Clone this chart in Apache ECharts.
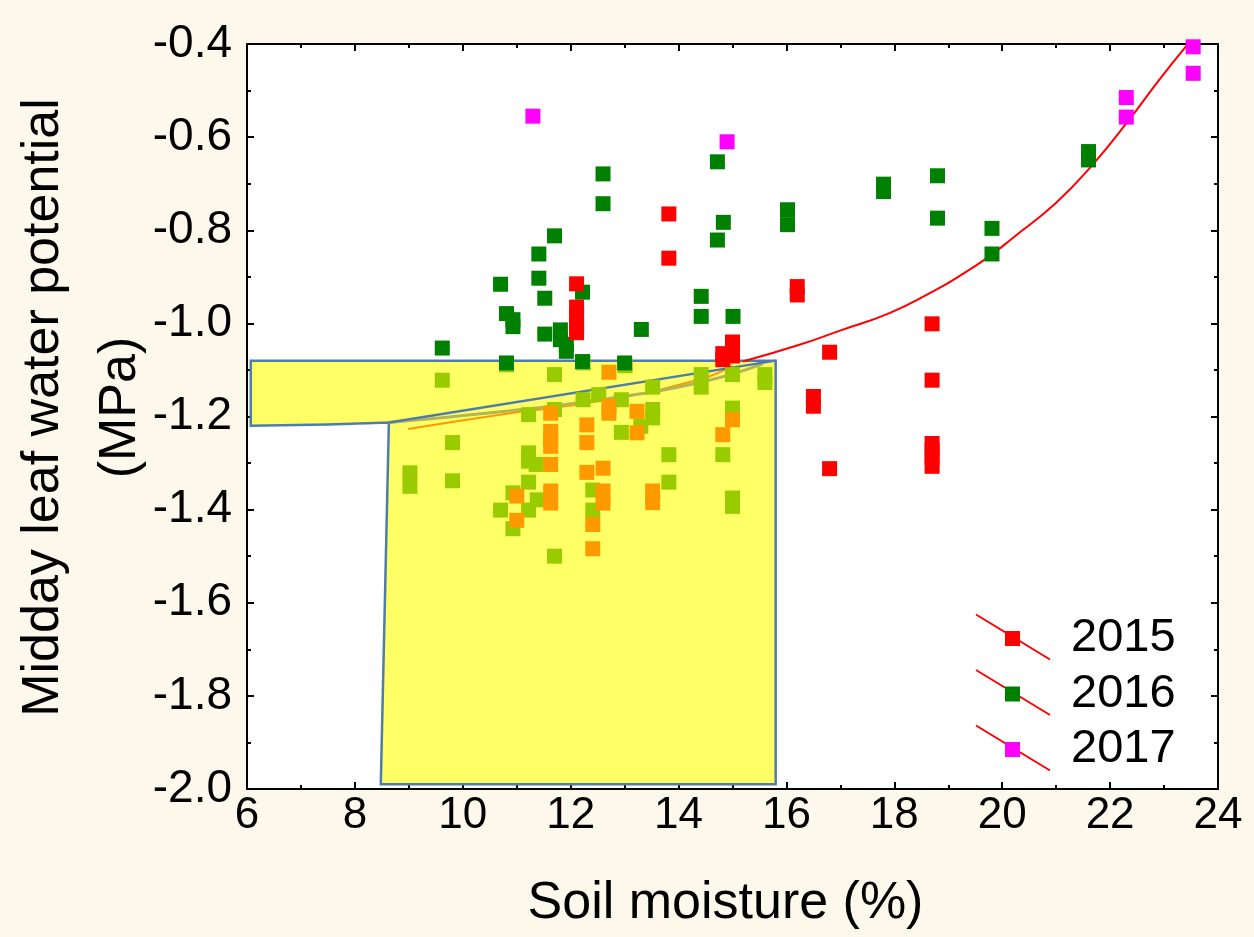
<!DOCTYPE html>
<html>
<head>
<meta charset="utf-8">
<title>Midday leaf water potential vs soil moisture</title>
<script src="https://cdn.jsdelivr.net/npm/echarts@6/dist/echarts.min.js"></script>
<style>
  html, body { margin: 0; padding: 0; background: #fdf8ec; }
  #chart { width: 1254px; height: 937px; }
</style>
</head>
<body>
<div id="chart"></div>
<script>
  // tick labels
  let xTicks = [6, 8, 10, 12, 14, 16, 18, 20, 22, 24]
  let yTicks = [-2.0, -1.8, -1.6, -1.4, -1.2, -1.0, -0.8, -0.6, -0.4]

  // [soil moisture %, leaf water potential MPa]
  let data2015 = [
    [12.11, -0.915], [12.11, -0.965], [12.11, -0.985], [12.11, -1.005], [12.11, -1.02],
    [13.82, -0.765], [13.82, -0.860],
    [14.82, -1.065], [14.82, -1.078],
    [15.0, -1.04], [15.0, -1.055], [15.0, -1.07],
    [16.2, -0.921], [16.2, -0.939],
    [16.5, -1.157], [16.5, -1.178],
    [16.8, -1.062], [16.8, -1.312],
    [18.7, -1.001], [18.7, -1.122], [18.7, -1.258], [18.7, -1.272], [18.7, -1.288], [18.7, -1.307]
  ]
  let data2016 = [
    [9.62, -1.053], [10.70, -0.916], [10.81, -0.979], [10.93, -0.992], [10.93, -1.007], [10.81, -1.085],
    [11.41, -0.851], [11.41, -0.903], [11.52, -0.946], [11.52, -1.023], [11.70, -0.812],
    [11.81, -1.014], [11.81, -1.035], [11.92, -1.045], [11.92, -1.060],
    [12.22, -0.933], [12.22, -1.082], [12.60, -0.679], [12.60, -0.743],
    [13.0, -1.085], [13.31, -1.013], [14.42, -0.942], [14.42, -0.985],
    [14.72, -0.653], [14.72, -0.821], [14.83, -0.783], [15.01, -0.985],
    [16.02, -0.756], [16.02, -0.788], [17.80, -0.701], [17.80, -0.717],
    [18.80, -0.683], [18.80, -0.774], [19.81, -0.796], [19.81, -0.851],
    [21.60, -0.631], [21.60, -0.649]
  ]
  let data2017 = [
    [11.30, -0.555], [14.90, -0.610], [22.30, -0.515], [22.30, -0.557], [23.54, -0.406], [23.54, -0.463]
  ]
  let dataLightGreen = [
    [10.81, -1.089], [9.62, -1.122], [11.70, -1.110], [12.23, -1.085], [13.01, -1.091],
    [14.42, -1.110], [14.42, -1.137], [15.0, -1.110], [15.60, -1.110], [15.60, -1.127],
    [13.52, -1.137], [12.23, -1.164], [12.52, -1.153], [12.94, -1.164], [11.70, -1.185],
    [11.22, -1.196], [13.52, -1.185], [13.52, -1.203], [13.30, -1.221], [12.94, -1.234],
    [15.0, -1.182], [9.81, -1.256], [13.82, -1.282], [14.82, -1.282], [11.22, -1.278],
    [11.22, -1.296], [11.36, -1.303], [9.02, -1.321], [9.02, -1.350], [9.81, -1.338],
    [13.82, -1.341], [11.22, -1.341], [12.41, -1.358], [10.93, -1.364], [11.38, -1.379],
    [15.0, -1.375], [15.0, -1.393], [10.70, -1.401], [11.22, -1.401], [12.41, -1.401],
    [10.93, -1.441], [11.70, -1.500]
  ]
  let dataOrange = [
    [12.71, -1.105], [11.63, -1.193], [12.71, -1.178], [12.71, -1.193], [13.23, -1.189],
    [13.23, -1.235], [15.0, -1.207], [14.82, -1.239], [12.30, -1.218], [12.30, -1.256],
    [11.63, -1.232], [11.63, -1.248], [11.63, -1.264], [11.63, -1.303], [12.30, -1.320],
    [12.60, -1.311], [13.52, -1.360], [13.52, -1.385], [12.60, -1.360], [12.60, -1.386],
    [11.63, -1.360], [11.63, -1.386], [11.0, -1.371], [11.0, -1.423], [12.41, -1.432], [12.41, -1.484]
  ]

  // fitted curves
  let fitRed = [
    [15.19, -1.082], [16.24, -1.046], [16.98, -1.016], [17.91, -0.978], [18.77, -0.928],
    [19.2, -0.899], [19.76, -0.856], [20.19, -0.817], [20.99, -0.742], [21.67, -0.660],
    [22.35, -0.563], [22.91, -0.477], [23.43, -0.402]
  ]
  let fitOrange = [[8.99, -1.227], [10.69, -1.196], [12.54, -1.167], [14.4, -1.12], [15.0, -1.09]]
  let fitOlive = [[8.63, -1.213], [10.7, -1.19], [12.54, -1.164], [14.39, -1.127], [15.56, -1.087]]
  let limitLine = [[8.63, -1.213], [15.8, -1.080]]

  // shaded zone outline
  let shadeX = [6.07, 15.8, 15.8, 8.48, 8.63, 7.5, 6.07]
  let shadeY = [-1.080, -1.080, -1.990, -1.990, -1.213, -1.217, -1.220]

  let chart = echarts.init(document.getElementById('chart'))
  let font = 'Liberation Sans, Arial, sans-serif'

  function axisCommon(extra) {
    return Object.assign({
      type: 'value',
      axisLine: { show: true, onZero: false, lineStyle: { color: '#000', width: 2 } },
      axisTick: { show: true, inside: true, length: 7, lineStyle: { color: '#000', width: 2 } },
      minorTick: { show: true, splitNumber: 2, length: 4, lineStyle: { color: '#000', width: 2 } },
      splitLine: { show: false }
    }, extra)
  }

  let xAxisBase = { min: xTicks[0], max: xTicks[xTicks.length - 1], interval: 2 }
  let yAxisBase = { min: yTicks[0], max: yTicks[yTicks.length - 1], interval: 0.2 }

  function scatter(name, data, color, z) {
    return {
      name: name,
      type: 'scatter',
      data: data,
      symbol: 'rect',
      symbolSize: 15,
      itemStyle: { color: color, opacity: 1 },
      z: z
    }
  }

  function line(data, color, width, z) {
    return {
      type: 'line',
      data: data,
      showSymbol: false,
      symbol: 'none',
      smooth: true,
      lineStyle: { color: color, width: width },
      silent: true,
      z: z
    }
  }

  // red strokes behind the legend markers
  let legendLines = [0, 1, 2].map(function (i) {
    let cy = 637.5 + i * 55.5
    return {
      type: 'line',
      z: 1,
      shape: { x1: 976, y1: cy - 23, x2: 1050, y2: cy + 22 },
      style: { stroke: '#ff0000', lineWidth: 2 }
    }
  })

  let option = {
    backgroundColor: '#fdf8ec',
    animation: false,
    textStyle: { fontFamily: font },
    grid: {
      left: 247, right: 36, top: 44, bottom: 148,
      containLabel: false,
      outerBoundsMode: 'none',
      show: true, backgroundColor: '#ffffff', borderWidth: 0
    },
    graphic: legendLines,
    legend: {
      data: ['2015', '2016', '2017'],
      orient: 'vertical',
      left: 1000,
      top: 610,
      icon: 'rect',
      itemWidth: 15,
      itemHeight: 15,
      itemGap: 8.5,
      z: 5,
      textStyle: { fontSize: 47, lineHeight: 47, color: '#000', fontFamily: font, padding: [0, 0, 0, 46] }
    },
    xAxis: [
      axisCommon(Object.assign({}, xAxisBase, {
        position: 'bottom',
        name: 'Soil moisture (%)',
        nameLocation: 'middle',
        nameGap: 89,
        nameMoveOverlap: false,
        nameTextStyle: { fontSize: 52, lineHeight: 52, color: '#000', fontFamily: font, padding: [0, 14, 0, 0] },
        axisLabel: { show: true, margin: 5, fontSize: 44, color: '#000', fontFamily: font }
      })),
      axisCommon(Object.assign({}, xAxisBase, { position: 'top', axisLabel: { show: false } }))
    ],
    yAxis: [
      axisCommon(Object.assign({}, yAxisBase, {
        position: 'left',
        name: 'Midday leaf water potential\n(MPa)',
        nameLocation: 'middle',
        nameRotate: 90,
        nameGap: 88,
        nameMoveOverlap: false,
        nameTextStyle: { fontSize: 52, lineHeight: 77, color: '#000', fontFamily: font, padding: [0, 0, 0, 18] },
        axisLabel: {
          show: true, margin: 15, fontSize: 46, color: '#000', fontFamily: font,
          formatter: function (v) { return v.toFixed(1) }
        }
      })),
      axisCommon(Object.assign({}, yAxisBase, { position: 'right', axisLabel: { show: false } }))
    ],
    series: [
      {
        type: 'custom',
        silent: true,
        z: 1,
        data: [[shadeX[0], shadeY[0]]],
        renderItem: function (params, api) {
          let pts = shadeX.map(function (x, i) { return api.coord([x, shadeY[i]]) })
          return {
            type: 'polygon',
            shape: { points: pts },
            style: { fill: '#ffff66', stroke: '#4f7cac', lineWidth: 2.5 }
          }
        }
      },
      line(fitOrange, '#ff9900', 2, 2),
      line(fitOlive, '#b4b45a', 3, 2),
      line(limitLine, '#4f7cac', 2.5, 3),
      line(fitRed, '#ff0000', 2, 3),
      scatter('lightgreen', dataLightGreen, '#99cc00', 4),
      scatter('orange', dataOrange, '#ff9900', 4),
      scatter('2016', data2016, '#008000', 5),
      scatter('2015', data2015, '#ff0000', 5),
      scatter('2017', data2017, '#ff00ff', 5)
    ]
  }

  chart.setOption(option)
</script>
</body>
</html>
